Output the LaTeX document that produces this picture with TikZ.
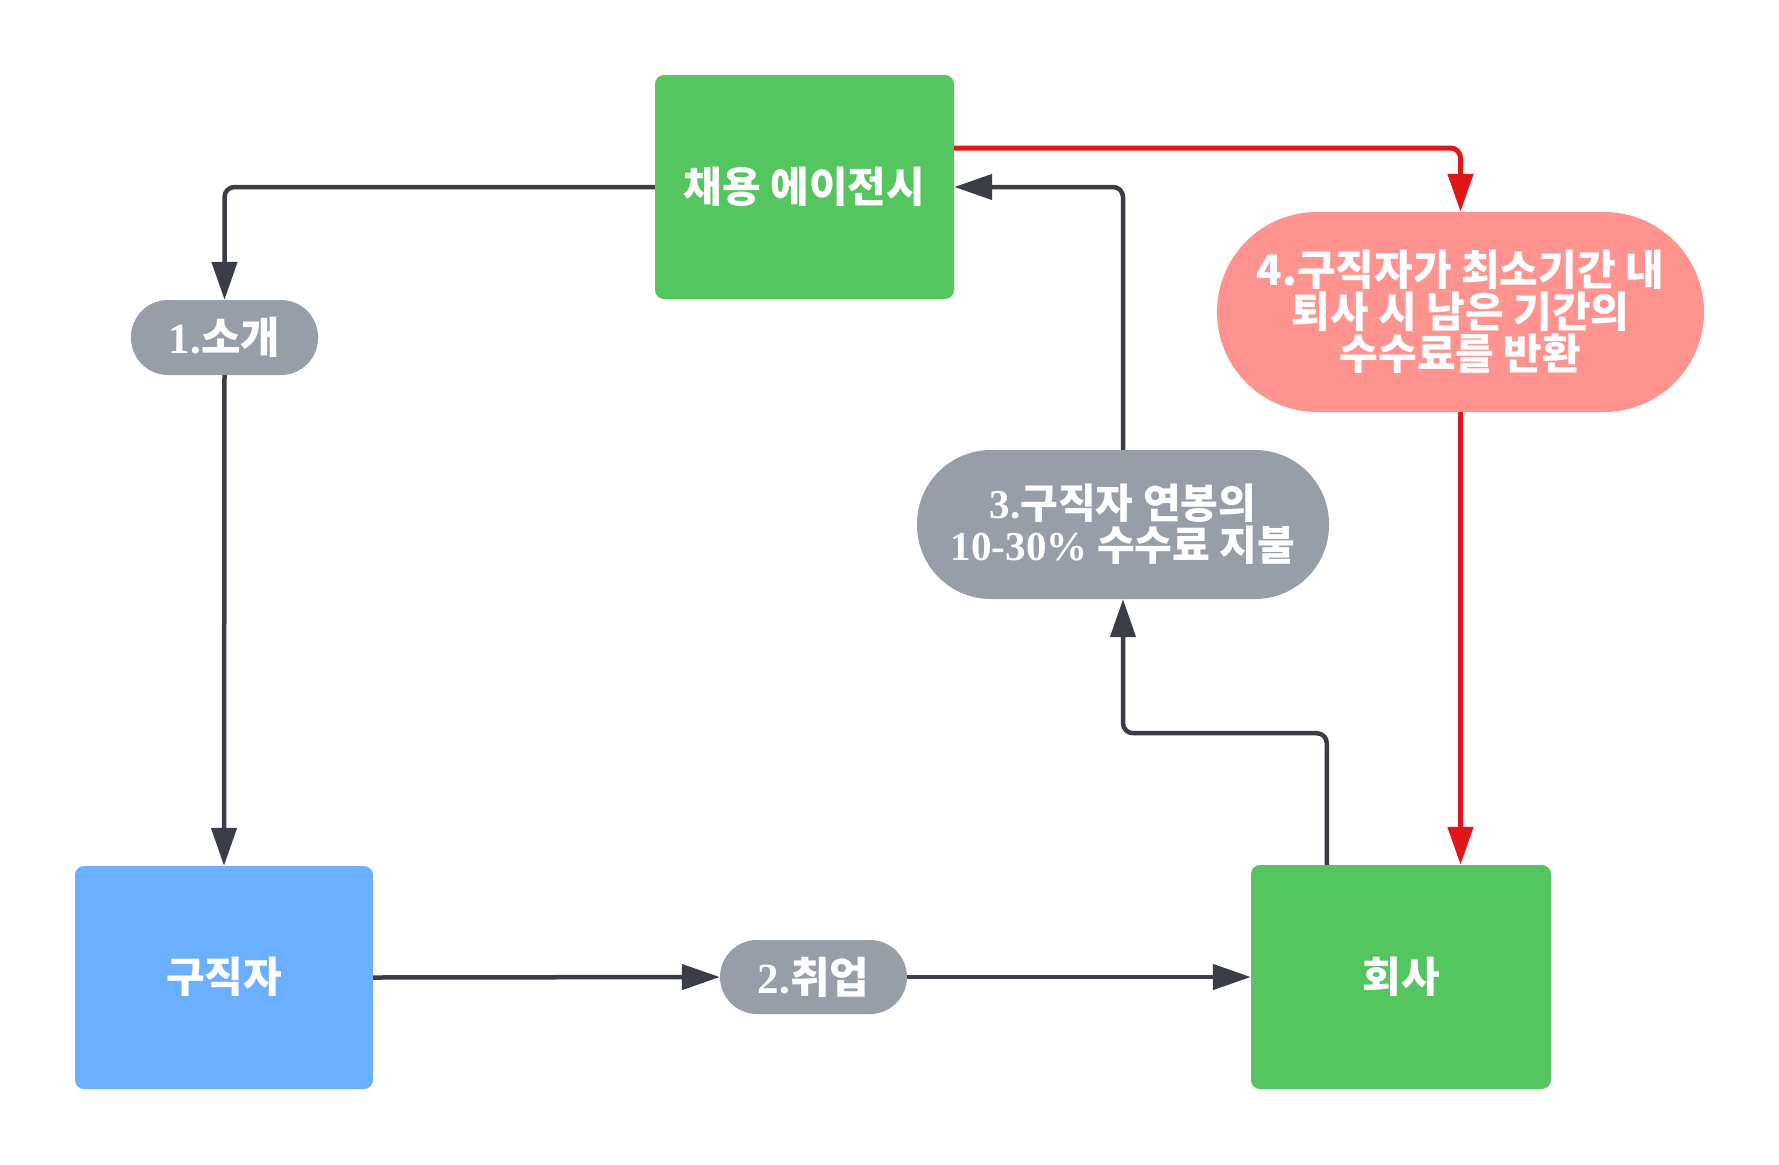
\documentclass[tikz,border=0pt]{standalone}
\usepackage{fontspec}
\setmainfont{Liberation Serif}
\newfontfamily\kr{Noto Sans CJK KR}
\usetikzlibrary{arrows.meta,calc}
\definecolor{cgreen}{HTML}{55C55F}
\definecolor{cblue}{HTML}{6BB0FF}
\definecolor{cgray}{HTML}{979EA7}
\definecolor{cpink}{HTML}{FF9390}
\definecolor{cdark}{HTML}{3A3D45}
\definecolor{cred}{HTML}{E0161A}
\newcommand{\se}[1]{{\rmfamily\bfseries #1}}
\begin{document}
\begin{tikzpicture}[x=1pt,y=-1pt,
  box/.style={rectangle,rounded corners=9pt,inner sep=0pt,text=white,font=\kr\bfseries\fontsize{42}{48}\selectfont},
  pill/.style={rectangle,inner sep=0pt,fill=cgray,text=white,align=center},
  line/.style={draw=cdark,line width=4.5pt,rounded corners=10pt,-{Triangle[length=38pt,width=25pt]}},
  rline/.style={draw=cred,line width=5pt,rounded corners=10pt,-{Triangle[length=38pt,width=25pt]}}]
\useasboundingbox[fill=white] (0,0) rectangle (1779,1164);
\node[box,fill=cgreen,minimum width=299pt,minimum height=224pt] (agency) at (804.5,187) {\raisebox{4pt}{채용 에이전시}};
\node[box,fill=cblue,minimum width=298pt,minimum height=223pt] (seeker) at (224,977.5) {\raisebox{6pt}{구직자}};
\node[box,fill=cgreen,minimum width=300pt,minimum height=224pt] (company) at (1401,977) {\raisebox{5pt}{회사}};
\node[pill,rounded corners=37pt,minimum width=187pt,minimum height=75pt,font=\kr\bfseries\fontsize{43}{46}\selectfont] (p1) at (224.5,337.5) {\raisebox{5pt}{\se{1.}소개}};
\node[pill,rounded corners=37pt,minimum width=187pt,minimum height=74pt,font=\kr\bfseries\fontsize{43}{46}\selectfont] (p2) at (813.5,977) {\raisebox{3pt}{\se{2.}취업}};
\node[pill,rounded corners=74pt,minimum width=412pt,minimum height=149pt,font=\kr\bfseries\fontsize{41}{42}\selectfont] (p3) at (1123,524.5) {\se{3.}구직자 연봉의\\\se{10-30\%} 수수료 지불};
\node[pill,fill=cpink,rounded corners=100pt,minimum width=487pt,minimum height=200pt,font=\kr\bfseries\fontsize{42}{42}\selectfont] (p4) at (1460.5,312) {4.구직자가 최소기간 내\\퇴사 시 남은 기간의\\수수료를 반환};
\draw[line] (agency.west) -| (p1.north);
\draw[line] (p1.south) -- (seeker.north);
\draw[line] (seeker.east) -- (p2.west);
\draw[line] (p2.east) -- (company.west);
\draw[line] ([xshift=76pt]company.north west) |- ($(p3.south)+(0,134)$) -- (p3.south);
\draw[line] (p3.north) |- (agency.east);
\draw[rline] ($(agency.east)+(0,-39)$) -| (p4.north);
\draw[rline] (p4.south) -- (p4.south |- company.north);
\end{tikzpicture}
\end{document}
